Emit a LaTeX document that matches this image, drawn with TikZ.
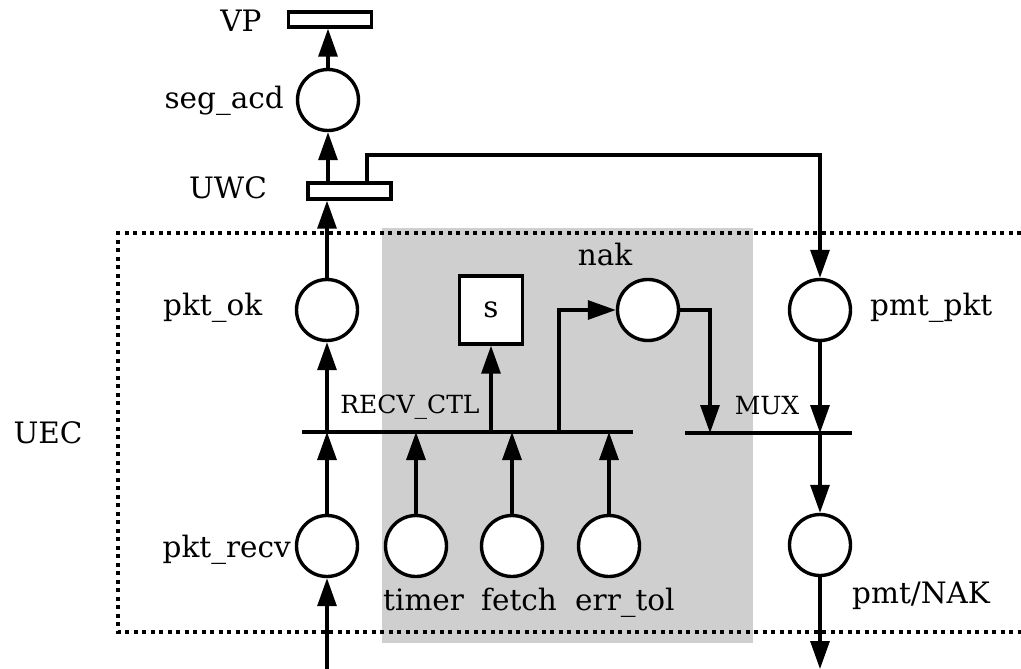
\documentclass[tikz,border=0pt]{standalone}
\usepackage{fontspec}
\setmainfont{DejaVu Serif}
\usetikzlibrary{arrows.meta}
\begin{document}
\begin{tikzpicture}[x=1pt,y=-1pt,
  every node/.style={font=\fontsize{29.5}{34}\selectfont, inner sep=0pt},
  place/.style={circle, draw, line width=3.4pt, fill=white, minimum size=61pt},
  trans/.style={rectangle, draw, line width=3.4pt, fill=white},
  wire/.style={line width=3.2pt},
  arr/.style={wire, -{Triangle[length=28pt,width=19pt]}},
  small/.style={font=\fontsize{25}{30}\selectfont}]
\useasboundingbox (0,0) rectangle (1021,669);
% shaded area and dotted boundary
\fill[black!19] (382,228) rectangle (753,643);
\draw[dash pattern=on 4pt off 4.5pt, line width=3.2pt] (1021,233) -- (118,233) -- (118,632) -- (1021,632);
% places and transitions
\node[trans, minimum width=83pt, minimum height=15pt] (VP) at (330,19.5) {};
\node[place] (seg) at (328,100) {};
\node[trans, minimum width=83pt, minimum height=16pt] (UWC) at (349.5,191) {};
\node[place] (pktok) at (327,310) {};
\node[trans, minimum width=63pt, minimum height=68pt] (s) at (491,310) {s};
\node[place] (nak) at (648,310) {};
\node[place] (pmtpkt) at (820,310) {};
\node[place] (pktrecv) at (327,546) {};
\node[place] (timer) at (416,546) {};
\node[place] (fetch) at (512,546) {};
\node[place] (errtol) at (609,546) {};
\node[place] (pmtnak) at (820,545) {};
% buses
\coordinate (recvL) at (302,432);
\coordinate (recvR) at (633,432);
\coordinate (muxL) at (685,433);
\coordinate (muxR) at (852,433);
\draw[wire] (recvL) -- (recvR);
\draw[wire] (muxL) -- (muxR);
% connectors
\draw[arr] (seg.north) -- (seg.north |- VP.south);
\draw[arr] (UWC.north -| seg) -- (seg.south);
\draw[arr] (pktok.north) -- (pktok.north |- UWC.south);
\draw[arr] (pktok |- recvL) -- (pktok.south);
\draw[arr] (pktrecv.north) -- (pktrecv |- recvL);
\coordinate (inB) at (327,669);
\draw[arr] (inB) -- (pktrecv.south);
\draw[arr] (s |- recvL) -- (s.south);
\draw[arr] (timer.north) -- (timer |- recvL);
\draw[arr] (fetch.north) -- (fetch |- recvL);
\draw[arr] (errtol.north) -- (errtol |- recvL);
\coordinate (nakfork) at (559,432);
\draw[arr] (nakfork) |- (nak.west);
\coordinate (nakout) at (710,310);
\draw[arr] (nak.east) -- (nakout) -- (nakout |- muxL);
\draw[arr] (pmtpkt.south) -- (pmtpkt |- muxL);
\draw[arr] (pmtpkt |- muxL) -- (pmtnak.north);
\coordinate (outB) at (820,669);
\draw[arr] (pmtnak.south) -- (outB);
\coordinate (fbk) at (367,155);
\draw[arr] (UWC.north -| fbk) -- (fbk) -| (pmtpkt.north);
% labels
\node[anchor=base] (lVP) at (241,32) {VP};
\node[anchor=base east] (lseg) at (284,108) {seg\_acd};
\node[anchor=base] (lUWC) at (228,198) {UWC};
\node[anchor=base west] (lpktok) at (163,315) {pkt\_ok};
\node[anchor=base east] (lpktrecv) at (291,557) {pkt\_recv};
\node[anchor=base] (lUEC) at (48,443) {UEC};
\node[small, anchor=base] (lrecv) at (410,413) {RECV\_CTL};
\node[anchor=base] (lnak) at (605,265) {nak};
\node[small, anchor=base] (lmux) at (767,414) {MUX};
\node[anchor=base west] (lpmtpkt) at (870,315) {pmt\_pkt};
\node[anchor=base west] (ltimer) at (383,610) {timer};
\node[anchor=base west] (lfetch) at (481,610) {fetch};
\node[anchor=base west] (lerr) at (575,610) {err\_tol};
\node[anchor=base west] (lpmtnak) at (852,603) {pmt/NAK};
\end{tikzpicture}
\end{document}
